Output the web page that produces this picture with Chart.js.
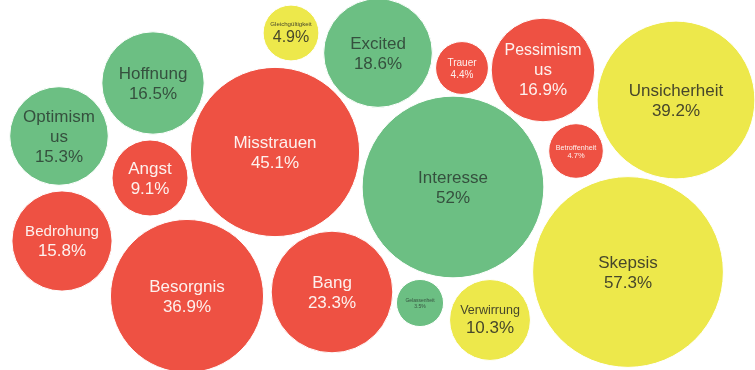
<!DOCTYPE html>
<html>
<head>
<meta charset="utf-8">
<script src="https://cdn.jsdelivr.net/npm/chart.js@4.4.1/dist/chart.umd.min.js"></script>
<style>
  body { margin: 0; background: #fff; }
  #wrap { width: 755px; height: 370px; position: relative; }
</style>
</head>
<body>
<div id="wrap"><canvas id="bubbles"></canvas></div>
<script>
// emotions and their share in percent
const labels = ['Gleichgültigkeit', 'Excited', 'Trauer', 'Pessimism\nus', 'Unsicherheit', 'Hoffnung',
  'Optimism\nus', 'Misstrauen', 'Angst', 'Interesse', 'Betroffenheit', 'Bedrohung', 'Besorgnis',
  'Bang', 'Gelassenheit', 'Verwirrung', 'Skepsis'];
const values = [4.9, 18.6, 4.4, 16.9, 39.2, 16.5, 15.3, 45.1, 9.1, 52, 4.7, 15.8, 36.9, 23.3, 3.5, 10.3, 57.3];
const groups = ['neutral', 'positive', 'negative', 'negative', 'neutral', 'positive',
  'positive', 'negative', 'negative', 'positive', 'negative', 'negative', 'negative',
  'negative', 'positive', 'neutral', 'neutral'];

// packing layout (bubble centres)
const layout = [[291, 33], [378, 53], [462, 68], [543, 70], [676, 100], [153, 83],
  [59, 136], [275, 152], [150, 178], [453, 187], [576, 151], [62, 241], [187, 296],
  [332, 292], [420, 303], [490, 320], [628, 272]];

const fill = { negative: '#ee5143', positive: '#6cbf83', neutral: '#ede84b' };
const ink = { negative: '#fdf1ee', positive: '#35503e', neutral: '#47472b' };
// biggest font allowed per bubble (small ones have smaller text)
const maxFont = [16, 17, 10, 17, 17, 17, 17, 17, 17, 17, 7.5, 17, 17, 17, 5, 17, 17];

const points = values.map((v, i) => ({ x: layout[i][0], y: layout[i][1], r: 12.6 * Math.sqrt(v) }));

const bubbleLabels = {
  id: 'bubbleLabels',
  afterDatasetsDraw(chart) {
    const ctx = chart.ctx;
    const meta = chart.getDatasetMeta(0);
    ctx.save();
    ctx.textAlign = 'center';
    ctx.textBaseline = 'middle';
    meta.data.forEach((el, i) => {
      const r = points[i].r;
      const lines = labels[i].split('\n').concat([values[i] + '%']);
      const sizes = lines.map(t => {
        ctx.font = '10px "Liberation Sans", Arial, sans-serif';
        const w = ctx.measureText(t).width / 10;
        return Math.min(maxFont[i], 1.48 * r / w);
      });
      const heights = sizes.map(s => s * 1.18);
      const total = heights.reduce((a, b) => a + b, 0);
      let y = el.y - total / 2;
      ctx.fillStyle = ink[groups[i]];
      lines.forEach((t, k) => {
        ctx.font = sizes[k].toFixed(1) + 'px "Liberation Sans", Arial, sans-serif';
        ctx.fillText(t, el.x, y + heights[k] / 2 + 1);
        y += heights[k];
      });
    });
    ctx.restore();
  }
};

new Chart(document.getElementById('bubbles'), {
  type: 'bubble',
  data: {
    datasets: [{
      data: points,
      backgroundColor: groups.map(g => fill[g]),
      borderColor: '#ffffff',
      borderWidth: 1,
      clip: false
    }]
  },
  options: {
    responsive: true,
    maintainAspectRatio: false,
    animation: false,
    layout: { padding: 0, autoPadding: false },
    scales: {
      x: { type: 'linear', min: 0, max: 755, display: false },
      y: { type: 'linear', min: 0, max: 370, reverse: true, display: false }
    },
    plugins: {
      legend: { display: false },
      tooltip: { enabled: false }
    }
  },
  plugins: [bubbleLabels]
});
</script>
</body>
</html>
